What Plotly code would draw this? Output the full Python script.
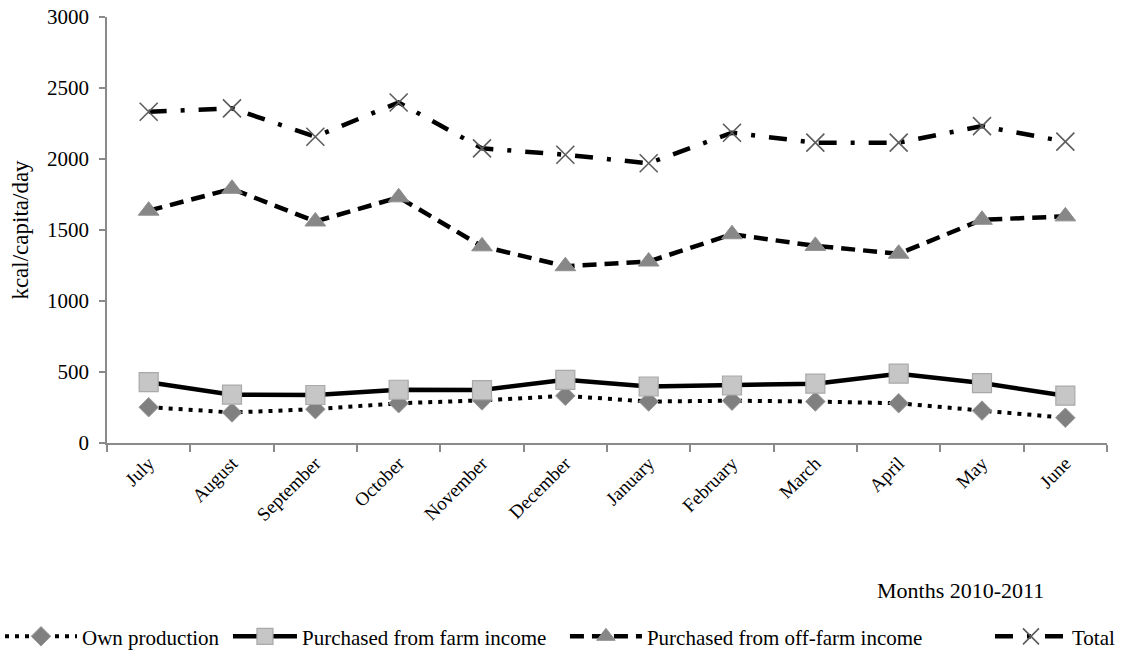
import plotly.graph_objects as go

# Monthly food energy availability, July 2010 - June 2011
months = ["July", "August", "September", "October", "November", "December",
          "January", "February", "March", "April", "May", "June"]
own_production = [252, 215, 238, 280, 300, 332, 292, 298, 292, 280, 228, 178]
farm_income = [428, 340, 338, 375, 373, 445, 398, 405, 418, 488, 422, 333]
off_farm_income = [1636, 1790, 1560, 1730, 1385, 1245, 1278, 1470, 1388, 1333, 1572, 1596]
total = [2333, 2357, 2157, 2398, 2075, 2030, 1970, 2185, 2115, 2115, 2232, 2122]

FONT = "Liberation Serif"
AXIS_GREY = "#8a8a8a"

fig = go.Figure()

fig.add_trace(go.Scatter(
    x=months, y=own_production, name="Own production", mode="lines+markers",
    legend="legend",
    line=dict(color="black", width=4, dash="4px,6px"),
    marker=dict(symbol="diamond", size=15, color="#808080",
                line=dict(color="#9a9a9a", width=1)),
))
fig.add_trace(go.Scatter(
    x=months, y=farm_income, name="Purchased from farm income", mode="lines+markers",
    legend="legend2",
    line=dict(color="black", width=4.5),
    marker=dict(symbol="square", size=19, color="#c6c6c6",
                line=dict(color="#a9a9a9", width=1.2)),
))
fig.add_trace(go.Scatter(
    x=months, y=off_farm_income, name="Purchased from off-farm income", mode="lines+markers",
    legend="legend3",
    line=dict(color="black", width=4.5, dash="14px,8px"),
    marker=dict(symbol="triangle-up", size=18, color="#878787",
                line=dict(color="#8f8f8f", width=1)),
))
fig.add_trace(go.Scatter(
    x=months, y=total, name="Total", mode="lines+markers",
    legend="legend4",
    line=dict(color="black", width=4.5, dash="18px,14px,4px,14px"),
    marker=dict(symbol="x-thin", size=18, color="#5c5c5c",
                line=dict(color="#5c5c5c", width=1.6)),
))


def legend_box(x_left, sample_width=72):
    # one single-entry legend per series, laid out along the bottom row
    return dict(
        orientation="h", xref="container", yref="container",
        x=x_left, xanchor="left", y=0.028, yanchor="middle",
        font=dict(family=FONT, size=21, color="black"),
        itemwidth=sample_width, bgcolor="rgba(0,0,0,0)",
    )


fig.update_layout(
    width=1145, height=655,
    margin=dict(l=107, r=38, t=17, b=212, autoexpand=False),
    paper_bgcolor="white", plot_bgcolor="white",
    font=dict(family=FONT, size=20, color="black"),
    showlegend=True,
    legend=legend_box(0.0),
    legend2=legend_box(0.1991, 64),
    legend3=legend_box(0.4934),
    legend4=legend_box(0.8646),
    annotations=[dict(
        text="Months 2010-2011", xref="paper", yref="paper",
        x=0.853, y=-0.347, xanchor="center", yanchor="middle",
        showarrow=False, font=dict(family=FONT, size=22, color="black"),
    )],
)

fig.update_xaxes(
    type="category", categoryorder="array", categoryarray=months,
    range=[-0.5, 11.5], showgrid=False, zeroline=False,
    showline=True, linecolor=AXIS_GREY, linewidth=1.5,
    ticks="outside", tickson="boundaries", ticklen=7, tickcolor=AXIS_GREY, tickwidth=1.5,
    tickangle=-45, tickfont=dict(family=FONT, size=19), automargin=False,
)
fig.update_yaxes(
    range=[0, 3000], dtick=500, showgrid=False, zeroline=False,
    showline=True, linecolor=AXIS_GREY, linewidth=1.5,
    ticks="outside", ticklen=6, tickcolor=AXIS_GREY, tickwidth=1.5,
    ticklabelstandoff=6, automargin=False,
    tickfont=dict(family=FONT, size=21),
    title=dict(text="kcal/capita/day", font=dict(family=FONT, size=23), standoff=12),
)

fig.write_html("out.html")
